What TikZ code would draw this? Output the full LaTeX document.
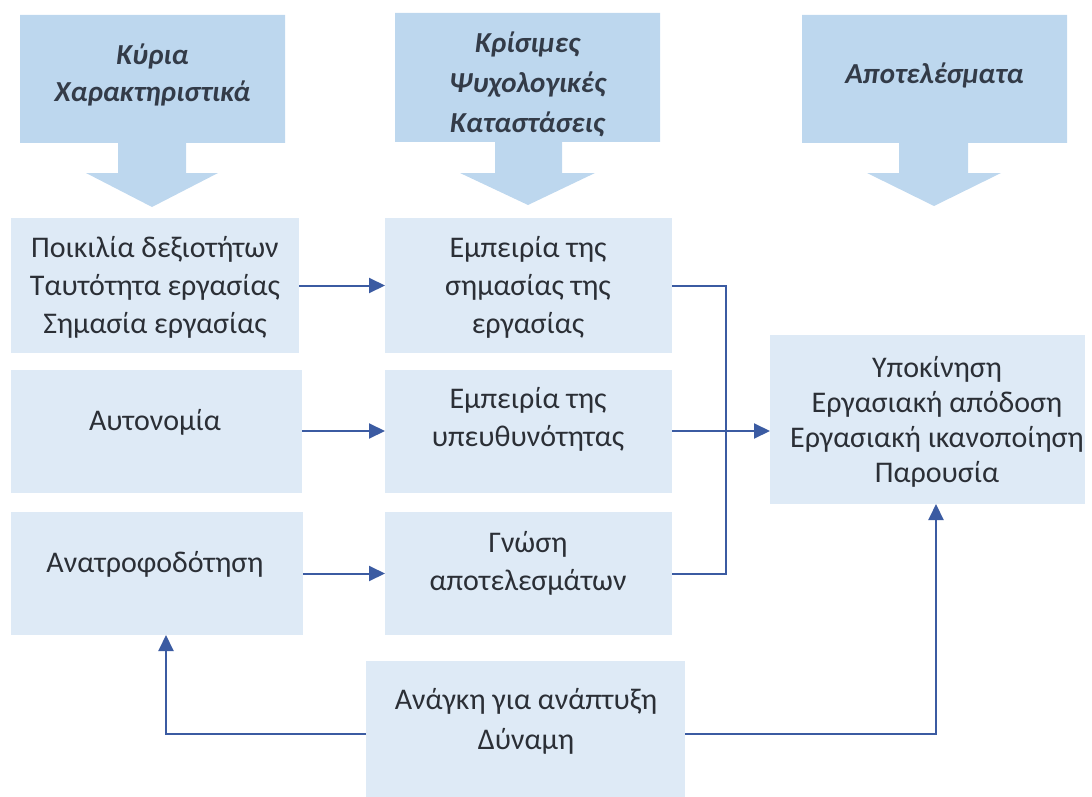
\documentclass[tikz,border=0pt]{standalone}
\usepackage{fontspec}
\setmainfont{Carlito}
\usetikzlibrary{arrows.meta,calc}
\definecolor{headfill}{HTML}{BDD7EE}
\definecolor{boxfill}{HTML}{DEEAF6}
\definecolor{linkcol}{HTML}{3B5BA2}
\definecolor{txtcol}{HTML}{2B2F36}
\definecolor{headtxt}{HTML}{333B48}
\tikzset{
  box/.style={fill=boxfill, draw=none, inner sep=0pt, outer sep=0pt},
  boxtext/.style={text=txtcol, font=\fontsize{30}{38}\selectfont, align=center, inner sep=0pt},
  headtext/.style={text=headtxt, font=\fontsize{29}{38}\selectfont\bfseries\itshape, align=center, inner sep=0pt},
  headarrow/.style={fill=headfill, draw=none},
  link/.style={draw=linkcol, line width=2pt},
  linkarrow/.style={link, -{Triangle[length=16pt,width=15pt]}},
}
\begin{document}
\begin{tikzpicture}[x=1pt,y=-1pt]
\useasboundingbox (0,0) rectangle (1092,797);

% column headings as block arrows
\path[headarrow] (20,15) -- (285,15) -- (285,143) -- (186,143) -- (186,173) -- (218,173)
  -- (152,207) -- (86,173) -- (118,173) -- (118,143) -- (20,143) -- cycle;
\node[headtext, font=\fontsize{29}{37}\selectfont\bfseries\itshape] (h1) at (152.5,75) {Κύρια\\Χαρακτηριστικά};

\path[headarrow] (395,13) -- (660,13) -- (660,142) -- (562,142) -- (562,173) -- (595,173)
  -- (528,205) -- (460,173) -- (495,173) -- (495,142) -- (395,142) -- cycle;
\node[headtext, font=\fontsize{29}{40}\selectfont\bfseries\itshape] (h2) at (527.5,84) {Κρίσιμες\\Ψυχολογικές\\Καταστάσεις};

\path[headarrow] (802,15) -- (1067,15) -- (1067,143) -- (968,143) -- (968,173) -- (1001,173)
  -- (934,206) -- (867,173) -- (899,173) -- (899,143) -- (802,143) -- cycle;
\node[headtext] (h3) at (934.5,75) {Αποτελέσματα};

% boxes
\node[box, minimum width=288, minimum height=135] (L1) at (155,285.5) {};
\node[box, minimum width=291, minimum height=123] (L2) at (156.5,431) {};
\node[box, minimum width=292, minimum height=123] (L3) at (157,573.5) {};
\node[box, minimum width=287, minimum height=135] (M1) at (528.5,285.5) {};
\node[box, minimum width=287, minimum height=123] (M2) at (528.5,431) {};
\node[box, minimum width=287, minimum height=123] (M3) at (528.5,573.5) {};
\node[box, minimum width=315, minimum height=169] (R) at (927.5,419.5) {};
\node[box, minimum width=319, minimum height=140] (B) at (525.5,731) {};

% box texts
\node[boxtext] (tL1) at (155,287) {Ποικιλία δεξιοτήτων\\Ταυτότητα εργασίας\\Σημασία εργασίας};
\node[boxtext] (tL2) at (155,422) {Αυτονομία};
\node[boxtext] (tL3) at (155,564) {Ανατροφοδότηση};
\node[boxtext] (tM1) at (528,287) {Εμπειρία της\\σημασίας της\\εργασίας};
\node[boxtext] (tM2) at (528,419) {Εμπειρία της\\υπευθυνότητας};
\node[boxtext] (tM3) at (528,563) {Γνώση\\αποτελεσμάτων};
\node[boxtext, font=\fontsize{30}{35}\selectfont] (tR) at (937,422) {Υποκίνηση\\Εργασιακή απόδοση\\Εργασιακή ικανοποίηση\\Παρουσία};
\node[boxtext, font=\fontsize{30}{40}\selectfont] (tB) at (526,721) {Ανάγκη για ανάπτυξη\\Δύναμη};

% connectors
\coordinate (J) at (726,0);
\coordinate (FL) at (166,0);
\coordinate (FR) at (936,0);
\draw[linkarrow] (L1.east) -- (M1.west);
\draw[linkarrow] (L2.east) -- (M2.west);
\draw[linkarrow] (L3.east) -- (M3.west);
\draw[link] (M1.east) -| (J |- M3.east) -- (M3.east);
\draw[linkarrow] (M2.east) -- (M2.east -| R.west);
\draw[linkarrow] ($(B.west)+(0,3)$) -| (FL |- L3.south);
\draw[linkarrow] ($(B.east)+(0,3)$) -| (FR |- R.south);
\end{tikzpicture}
\end{document}
